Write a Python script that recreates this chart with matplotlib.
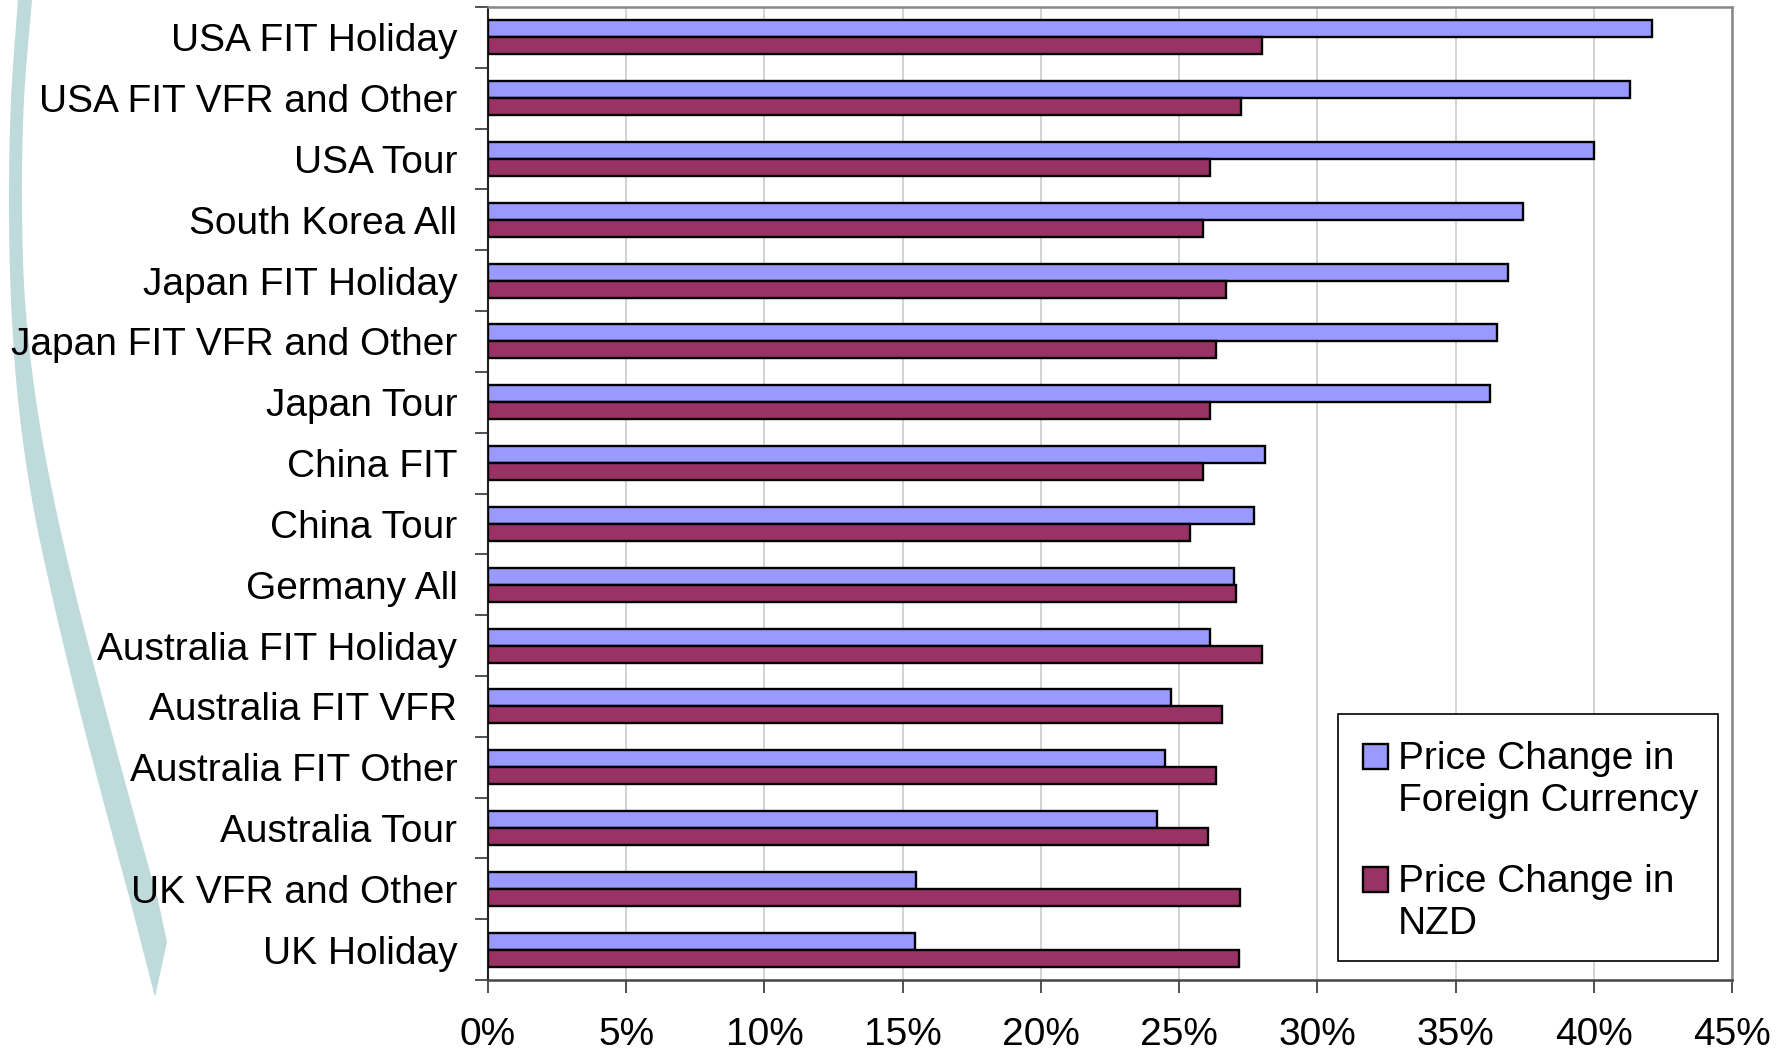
import matplotlib
matplotlib.use("Agg")
import matplotlib.pyplot as plt
import numpy as np
from matplotlib.patches import Polygon, Rectangle

plt.rcParams['font.family'] = ['Liberation Sans', 'DejaVu Sans']

categories = ["USA FIT Holiday", "USA FIT VFR and Other", "USA Tour", "South Korea All",
              "Japan FIT Holiday", "Japan FIT VFR and Other", "Japan Tour", "China FIT",
              "China Tour", "Germany All", "Australia FIT Holiday", "Australia FIT VFR",
              "Australia FIT Other", "Australia Tour", "UK VFR and Other", "UK Holiday"]
foreign_currency = [42.1, 41.3, 40.0, 37.45, 36.9, 36.5, 36.25, 28.1,
                    27.7, 27.0, 26.1, 24.7, 24.5, 24.2, 15.5, 15.45]
nzd = [28.0, 27.25, 26.1, 25.85, 26.7, 26.35, 26.1, 25.85,
       25.4, 27.05, 28.0, 26.55, 26.35, 26.05, 27.2, 27.15]
xticks = [0, 5, 10, 15, 20, 25, 30, 35, 40, 45]
series_names = ["Price Change in\nForeign Currency", "Price Change in\nNZD"]
series_colors = ['#9999FF', '#993366']

W, H = 1789, 1053
fig = plt.figure(figsize=(W / 100, H / 100), dpi=100)


def fpt(x, y):
    return (x / W, 1 - y / H)


def smooth(points, k=12):
    p = np.array(points, dtype=float)
    p = np.vstack([p[0], p, p[-1]])
    out = []
    for i in range(1, len(p) - 2):
        p0, p1, p2, p3 = p[i - 1], p[i], p[i + 1], p[i + 2]
        for t in np.linspace(0, 1, k, endpoint=False):
            t2, t3 = t * t, t * t * t
            out.append(0.5 * ((2 * p1) + (-p0 + p2) * t + (2 * p0 - 5 * p1 + 4 * p2 - p3) * t2
                              + (-p0 + 3 * p1 - 3 * p2 + p3) * t3))
    out.append(p[-2])
    return [tuple(q) for q in out]


# decorative swoosh (figure pixel coords, y from top)
left_edge = [(18, 0), (11, 100), (9, 200), (11, 300), (18, 400), (32, 500), (53, 600),
             (77, 700), (103, 800), (130, 900), (155, 997)]
right_edge = [(32, 0), (24, 100), (22, 200), (25, 300), (36, 400), (54, 500), (77, 600),
              (103, 700), (130, 800), (158, 900), (167, 942)]
pts = smooth(left_edge[:-1]) + [left_edge[-1], right_edge[-1]] + smooth(right_edge[:-1])[::-1]
pts = [fpt(x, y) for x, y in pts]
fig.patches.append(Polygon(pts, closed=True, transform=fig.transFigure,
                           facecolor='#BEDADA', edgecolor='none', zorder=-5))

ax = fig.add_axes([488 / W, 1 - 980 / H, (1732 - 488) / W, (980 - 7) / H], zorder=1)
ax.set_facecolor('none')
n = len(categories)
ypos = np.arange(n)[::-1]
bh = 0.28
ax.barh(ypos + 0.14, foreign_currency, height=bh, color=series_colors[0], edgecolor='black',
        linewidth=1.7, zorder=3)
ax.barh(ypos - 0.14, nzd, height=bh, color=series_colors[1], edgecolor='black',
        linewidth=1.7, zorder=3)

ax.set_xlim(0, 45)
ax.set_ylim(-0.5, n - 0.5)
ax.set_xticks(xticks)
ax.set_xticklabels([f"{v}%" for v in xticks], fontsize=28)
ax.tick_params(axis='x', length=9.5, width=1.2, pad=17, color='#333333')
ax.xaxis.grid(True, color='#D0D0D0', linewidth=1.3, zorder=0)
ax.set_axisbelow(True)

ax.set_yticks(np.arange(n + 1) - 0.5)
ax.set_yticklabels([])
ax.set_yticks(ypos, minor=True)
ax.set_yticklabels(categories, minor=True, fontsize=28)
ax.tick_params(axis='y', which='major', length=9.5, width=1.2, color='#333333')
ax.tick_params(axis='y', which='minor', length=0, pad=22)

for s in ['top', 'right']:
    ax.spines[s].set_color('#888888')
    ax.spines[s].set_linewidth(1.8)
ax.spines['left'].set_color('#222222')
ax.spines['left'].set_linewidth(1.5)
ax.spines['bottom'].set_color('#444444')
ax.spines['bottom'].set_linewidth(1.8)

# legend (figure pixel layout)
x0, y0, x1, y1 = 1338, 714, 1718, 961
fig.patches.append(Rectangle(fpt(x0, y1), (x1 - x0) / W, (y1 - y0) / H,
                             transform=fig.transFigure, facecolor='white',
                             edgecolor='black', linewidth=1.2, zorder=5))
entry_tops = [744, 867]
for top, name, col in zip(entry_tops, series_names, series_colors):
    fig.patches.append(Rectangle(fpt(1363, top + 25), 25 / W, 25 / H,
                                 transform=fig.transFigure, facecolor=col,
                                 edgecolor='black', linewidth=1.7, zorder=6))
    fig.text(1398 / W, 1 - (top - 3) / H, name, fontsize=28, va='top', ha='left',
             linespacing=1.22, zorder=6)

fig.savefig("out.png", dpi=100)
